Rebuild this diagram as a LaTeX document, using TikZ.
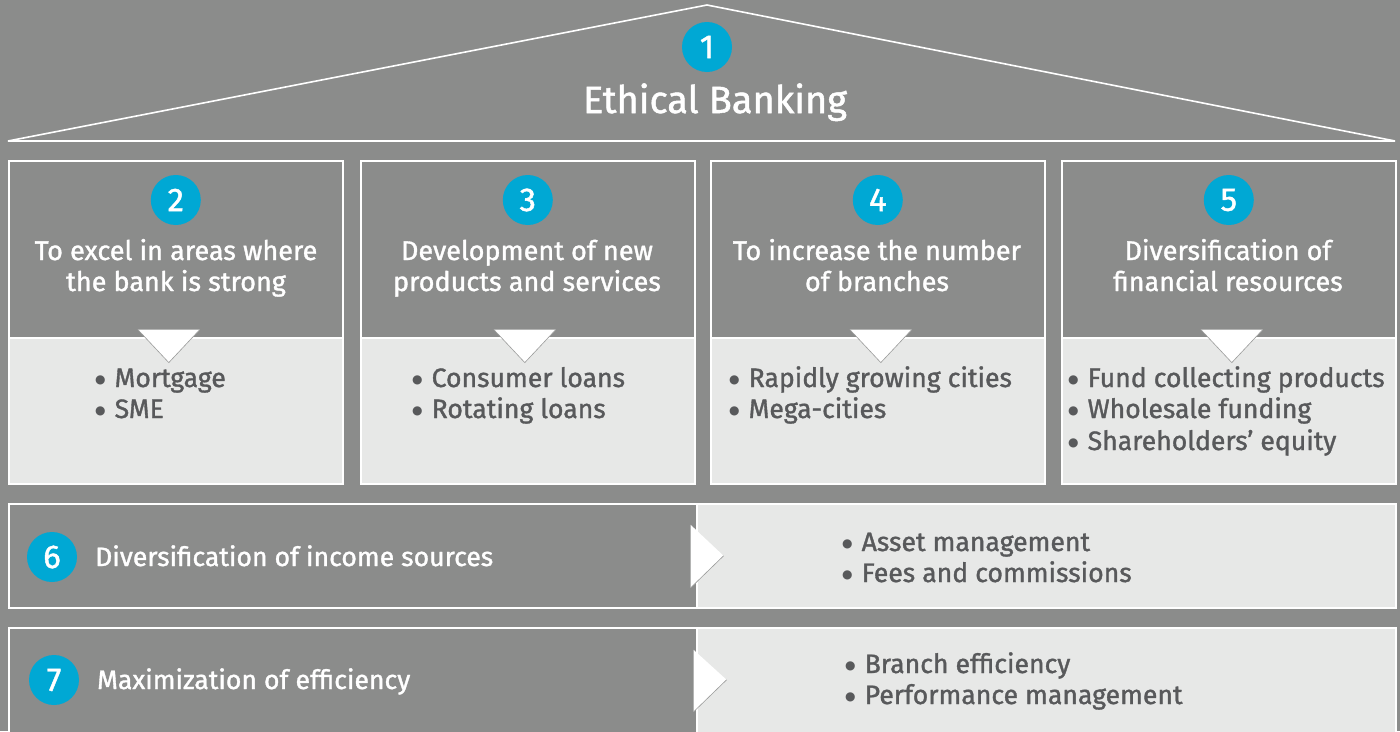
\documentclass[tikz,border=0pt]{standalone}
\usepackage{fontspec}
\setmainfont{Fira Sans}[FakeBold=1.3]
\newfontfamily\dotfont{DejaVu Sans}
\usetikzlibrary{calc}

\definecolor{bggray}{HTML}{8B8C8B}
\definecolor{panel}{HTML}{E7E8E7}
\definecolor{badgecyan}{HTML}{00A8D4}
\definecolor{bodytext}{HTML}{58595B}
\definecolor{edgegray}{HTML}{9A9B9A}

% list bullet followed by the item text
\newcommand{\bul}{\raisebox{3.2pt}{\dotfont\fontsize{12}{12}\selectfont ●}\hspace{9pt}}

\begin{document}
\begin{tikzpicture}[x=1pt,y=-1pt,
  frame/.style={draw=white, line width=1.6pt},
  headbox/.style={frame, fill=bggray, minimum width=334pt, minimum height=177pt, anchor=north west, inner sep=0pt},
  listbox/.style={frame, fill=panel, minimum width=334pt, minimum height=146pt, anchor=north west, inner sep=0pt},
  darkrow/.style={frame, fill=bggray, minimum width=688pt, anchor=north west, inner sep=0pt},
  lightrow/.style={frame, fill=panel, minimum width=699pt, anchor=north west, inner sep=0pt},
  badge/.style={circle, fill=badgecyan, minimum size=50pt, inner sep=0pt, text=white, font=\fontsize{33}{33}\selectfont},
  headline/.style={text=white, anchor=base, inner sep=0pt, font=\fontsize{27}{31}\selectfont},
  rowtitle/.style={text=white, anchor=base west, inner sep=0pt, font=\fontsize{26.6}{31}\selectfont},
  item/.style={text=bodytext, anchor=base west, inner sep=0pt, font=\fontsize{26.6}{31}\selectfont},
  pointer/.style={fill=white},
  pointeredge/.style={draw=edgegray, line width=0.6pt}
]
% background and page size
\fill[bggray] (0,0) rectangle (1400,731);
\useasboundingbox (0,0) rectangle (1400,731);

% roof
\coordinate (roofL) at (8,141);
\coordinate (apex) at (707,5);
\coordinate (roofR) at (1395,141);
\draw[white, line width=1.6pt, line join=miter] (roofL) -- (apex) -- (roofR) -- cycle;
\node[badge] (n1) at (707,47) {1};
\node[text=white, anchor=base, inner sep=0pt, font=\fontsize{38}{38}\selectfont] (title) at (715,113) {Ethical Banking};

% four pillars
\foreach \i/\x in {2/8,3/360,4/710,5/1061}{
  \node[headbox] (h\i) at (\x,160) {};
  \node[listbox] (l\i) at (\x,337) {};
  \node[badge] (n\i) at ($(h\i.north)+(0,40)$) {\i};
}

% pointers between heading and list
\foreach \i/\dx in {2/-7,3/-3,4/3,5/3}{
  \fill[pointer] ($(h\i.south)+(\dx-31,-9)$) -- ($(h\i.south)+(\dx+31,-9)$) -- ($(h\i.south)+(\dx,24)$) -- cycle;
  \draw[pointeredge] ($(h\i.south)+(\dx-31,-9)$) -- ($(h\i.south)+(\dx,24)$) -- ($(h\i.south)+(\dx+31,-9)$);
}

% pillar headings
\node[headline] (t2a) at (176,260) {To excel in areas where};
\node[headline] (t2b) at (176,291) {the bank is strong};
\node[headline] (t3a) at (527,260) {Development of new};
\node[headline] (t3b) at (527,291) {products and services};
\node[headline] (t4a) at (877,260) {To increase the number};
\node[headline] (t4b) at (877,291) {of branches};
\node[headline] (t5a) at (1228,260) {Diversification of};
\node[headline] (t5b) at (1228,291) {financial resources};

% pillar items
\node[item] (i2a) at (95,387) {\bul Mortgage};
\node[item] (i2b) at (95,418) {\bul SME};
\node[item] (i3a) at (412,387) {\bul Consumer loans};
\node[item] (i3b) at (412,418) {\bul Rotating loans};
\node[item] (i4a) at (729,387) {\bul Rapidly growing cities};
\node[item] (i4b) at (729,418) {\bul Mega-cities};
\node[item] (i5a) at (1068,387) {\bul Fund collecting products};
\node[item] (i5b) at (1068,418) {\bul Wholesale funding};
\node[item] (i5c) at (1068,450) {\bul Shareholders’ equity};

% row 6
\node[darkrow, minimum height=104pt] (r6) at (8,503) {};
\node[lightrow, minimum height=104pt] (s6) at (696,503) {};
\fill[pointer] ($(r6.east)+(-7,-31)$) -- ($(r6.east)+(26,0)$) -- ($(r6.east)+(-7,32)$) -- cycle;
\draw[pointeredge] ($(r6.east)+(-7,32)$) -- ($(r6.east)+(26,0)$);
\node[badge] (n6) at (52,557) {6};
\node[rowtitle] (t6) at (95,566) {Diversification of income sources};
\node[item] (i6a) at (842,551) {\bul Asset management};
\node[item] (i6b) at (842,582) {\bul Fees and commissions};

% row 7
\node[darkrow, minimum height=106pt] (r7) at (8,627) {};
\node[lightrow, minimum height=106pt] (s7) at (696,627) {};
\fill[pointer] ($(r7.east)+(-4,-31)$) -- ($(r7.east)+(29,-1)$) -- ($(r7.east)+(-4,31)$) -- cycle;
\draw[pointeredge] ($(r7.east)+(-4,31)$) -- ($(r7.east)+(29,-1)$);
\node[badge] (n7) at (54,680) {7};
\node[rowtitle] (t7) at (97,689) {Maximization of efficiency};
\node[item] (i7a) at (845,673) {\bul Branch efficiency};
\node[item] (i7b) at (845,704) {\bul Performance management};
\end{tikzpicture}
\end{document}
